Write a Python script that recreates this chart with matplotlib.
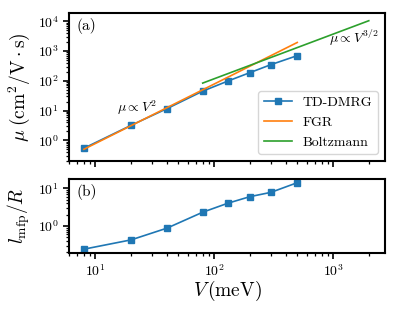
import numpy as np
from matplotlib import pyplot as plt

plt.rcParams['font.family'] = 'cmr10'
plt.rcParams['mathtext.fontset'] = 'cm'
plt.rcParams['axes.unicode_minus'] = False
plt.rcParams['axes.formatter.use_mathtext'] = True

# TD-DMRG data
V = [8, 20, 40, 80, 130, 200, 300, 500]          # meV
mu = [0.54, 3.2, 11.6, 45, 98, 189, 350, 703]    # cm^2/V.s
lmfp = [0.24, 0.425, 0.87, 2.31, 4.0, 6.0, 7.8, 14.1]

# FGR and Boltzmann lines (end points)
V_fgr = [8, 500]
mu_fgr = [0.5, 1950]
V_bz = [80, 2000]
mu_bz = [84, 10500]

fig = plt.figure(figsize=(3.99, 3.11), dpi=100)
ax1 = fig.add_axes([0.173, 0.482, 0.792, 0.476])
ax2 = fig.add_axes([0.173, 0.1865, 0.792, 0.238], sharex=ax1)

ax1.plot(V, mu, 's-', color='tab:blue', ms=4.5, lw=1.2, label='TD-DMRG')
ax1.plot(V_fgr, mu_fgr, '-', color='tab:orange', lw=1.2, label='FGR')
ax1.plot(V_bz, mu_bz, '-', color='tab:green', lw=1.2, label='Boltzmann')
ax1.set_xscale('log')
ax1.set_yscale('log')
ax1.set_xlim(6, 2740)
ax1.set_ylim(0.2, 1.9e4)
ax1.set_ylabel(r'$\mu\;(\mathrm{cm}^2/\mathrm{V\cdot s})$', fontsize=14)
ax1.text(0.025, 0.965, '(a)', transform=ax1.transAxes, ha='left', va='top', fontsize=11)
ax1.text(0.152, 0.36, r'$\mu\propto V^2$', transform=ax1.transAxes, ha='left', va='center', fontsize=10)
ax1.text(0.823, 0.83, r'$\mu\propto V^{3/2}$', transform=ax1.transAxes, ha='left', va='center', fontsize=10)
ax1.legend(loc='lower right', fontsize=10)
ax1.tick_params(labelbottom=False)

ax2.plot(V, lmfp, 's-', color='tab:blue', ms=4.5, lw=1.2)
ax2.set_yscale('log')
ax2.set_ylim(0.19, 17.7)
ax2.set_xlabel(r'$V\,(\mathrm{meV})$', fontsize=14, labelpad=0)
ax2.set_ylabel(r'$l_\mathrm{mfp}/R$', fontsize=14)
ax2.text(0.025, 0.93, '(b)', transform=ax2.transAxes, ha='left', va='top', fontsize=11)

for ax in (ax1, ax2):
    for s in ax.spines.values():
        s.set_linewidth(1.5)
    ax.tick_params(labelsize=10, width=1.2, length=4)
    ax.tick_params(which='minor', width=0.9, length=2.5)

fig.savefig('out.png', dpi=100)
